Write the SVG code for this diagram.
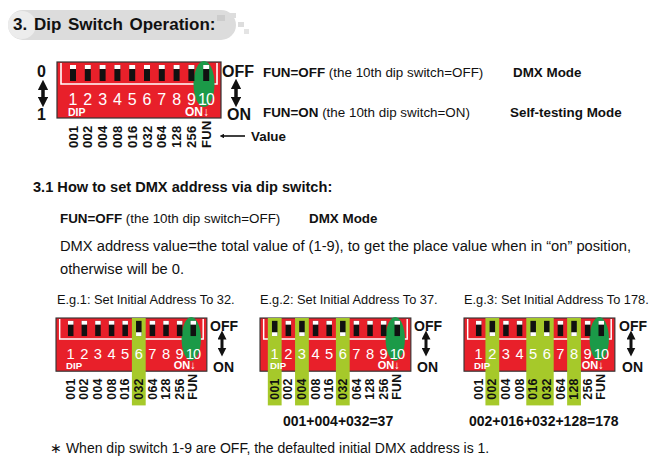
<svg xmlns="http://www.w3.org/2000/svg" xmlns:xlink="http://www.w3.org/1999/xlink" width="665" height="464" viewBox="0 0 665 464">
<style>
text{font-family:"Liberation Sans",Arial,sans-serif;fill:#111}
.b{font-weight:bold}
.num{fill:#fff;font-size:16px;text-anchor:middle}
.val{font-weight:bold;font-size:13px;letter-spacing:0.3px}
.bar{fill:#111}
.tip{fill:#fff}
.hl{fill:#a6c92a}
</style>
<defs>
<marker id="ah" viewBox="0 0 10 10" refX="5" refY="5" markerWidth="3" markerHeight="3" orient="auto-start-reverse"><path d="M0,0L10,5L0,10z" fill="#111"/></marker>
<g id="board">
<rect x="0" y="0" width="164" height="56" fill="#e8202a" stroke="#333" stroke-width="1.2"/>
<path d="M4,1V22H160V1" fill="none" stroke="#fff" stroke-width="1.6"/>
<ellipse cx="147" cy="22" rx="10.5" ry="23" fill="#1b9a48"/>
</g>
<g id="labels">
<text class="num" x="16" y="43">1</text><text class="num" x="30.8" y="43">2</text><text class="num" x="45.6" y="43">3</text><text class="num" x="60.4" y="43">4</text><text class="num" x="75.2" y="43">5</text><text class="num" x="90" y="43">6</text><text class="num" x="104.8" y="43">7</text><text class="num" x="119.6" y="43">8</text><text class="num" x="134.4" y="43">9</text><text class="num" x="149" y="43" style="letter-spacing:-1px">10</text>
<text x="11" y="54" class="b" style="fill:#fff;font-size:10.5px">DIP</text>
<text x="152" y="54" class="b" style="fill:#fff;font-size:12px;text-anchor:end">ON↓</text>
<g class="val">
<text transform="translate(20.5,86) rotate(-90)">001</text><text transform="translate(35.3,86) rotate(-90)">002</text><text transform="translate(50.1,86) rotate(-90)">004</text><text transform="translate(64.9,86) rotate(-90)">008</text><text transform="translate(79.7,86) rotate(-90)">016</text><text transform="translate(94.5,86) rotate(-90)">032</text><text transform="translate(109.3,86) rotate(-90)">064</text><text transform="translate(124.1,86) rotate(-90)">128</text><text transform="translate(138.9,86) rotate(-90)">256</text><text transform="translate(153.7,86) rotate(-90)">FUN</text>
</g>
</g>
<g id="off"><rect class="bar" x="-3" y="3" width="6" height="16"/><rect class="tip" x="-3" y="3" width="6" height="4"/></g>
<g id="on"><rect class="bar" x="-3" y="3" width="6" height="16"/><rect class="tip" x="-3" y="15" width="6" height="4"/></g>
</defs>

<g id="header">
<rect x="8" y="10" width="228" height="30" rx="15" fill="#dcdcdc"/>
<circle cx="22" cy="25" r="14" fill="#ececec"/>
<rect x="217" y="15" width="8" height="6" fill="#ccc"/><rect x="230" y="13" width="6" height="5" fill="#ddd"/><rect x="238" y="22" width="6" height="5" fill="#ddd"/><rect x="244" y="29" width="5" height="5" fill="#e4e4e4"/>
<text x="13" y="30" class="b" style="font-size:17px;word-spacing:2px">3.  Dip Switch Operation:</text>
</g>

<g id="main-switch" transform="translate(57,62)">
<use xlink:href="#board"/>
<use xlink:href="#off" x="16"/><use xlink:href="#off" x="30.8"/><use xlink:href="#off" x="45.6"/><use xlink:href="#off" x="60.4"/><use xlink:href="#off" x="75.2"/><use xlink:href="#off" x="90"/><use xlink:href="#off" x="104.8"/><use xlink:href="#off" x="119.6"/><use xlink:href="#off" x="134.4"/><use xlink:href="#off" x="149.2"/>
<use xlink:href="#labels"/>
</g>

<g id="connectors" stroke="#111" stroke-width="3.5" fill="none">
<line x1="43" y1="85" x2="43" y2="102" marker-start="url(#ah)" marker-end="url(#ah)"/>
<line x1="236" y1="84" x2="236" y2="102" marker-start="url(#ah)" marker-end="url(#ah)"/>
<line x1="222" y1="136" x2="245" y2="136" stroke-width="1.6" marker-start="url(#ah)" style="stroke-width:1.6"/>
<line x1="222" y1="335" x2="222" y2="352" stroke-width="3" marker-start="url(#ah)" marker-end="url(#ah)"/>
<line x1="426" y1="335" x2="426" y2="352" stroke-width="3" marker-start="url(#ah)" marker-end="url(#ah)"/>
<line x1="631" y1="335" x2="631" y2="352" stroke-width="3" marker-start="url(#ah)" marker-end="url(#ah)"/>
</g>

<g id="main-text">
<text x="37" y="77" class="b" style="font-size:16px">0</text>
<text x="37" y="120" class="b" style="font-size:16px">1</text>
<text x="222" y="77" class="b" style="font-size:16px">OFF</text>
<text x="227" y="120" class="b" style="font-size:16px">ON</text>
<text x="263" y="77" style="font-size:13.4px"><tspan class="b">FUN=OFF</tspan> (the 10th dip switch=OFF)</text>
<text x="513" y="77" class="b" style="font-size:13.4px">DMX Mode</text>
<text x="263" y="117" style="font-size:13.4px"><tspan class="b">FUN=ON</tspan> (the 10th dip switch=ON)</text>
<text x="510" y="117" class="b" style="font-size:13.4px">Self-testing Mode</text>
<text x="251" y="141" class="b" style="font-size:13.4px">Value</text>
<text x="33" y="192" class="b" style="font-size:14.6px">3.1 How to set DMX address via dip switch:</text>
<text x="60" y="223" style="font-size:13.4px"><tspan class="b">FUN=OFF</tspan> (the 10th dip switch=OFF)</text>
<text x="309" y="223" class="b" style="font-size:13.4px">DMX Mode</text>
<text x="60" y="251" style="font-size:14.7px">DMX address value=the total value of (1-9), to get the place value when in “on” position,</text>
<text x="60" y="274" style="font-size:14.7px">otherwise will be 0.</text>
<text x="57" y="304" style="font-size:12.8px">E.g.1: Set Initial Address To 32.</text>
<text x="260" y="304" style="font-size:12.8px">E.g.2: Set Initial Address To 37.</text>
<text x="464" y="304" style="font-size:12.8px">E.g.3: Set Initial Address To 178.</text>
<text x="283" y="426" class="b" style="font-size:14px">001+004+032=37</text>
<text x="469" y="426" class="b" style="font-size:14px">002+016+032+128=178</text>
<text x="50" y="453" style="font-size:14px">∗ When dip switch 1-9 are OFF,  the defaulted initial DMX address is 1.</text>
</g>

<g id="example1" transform="translate(56,318) scale(0.92,0.95)">
<use xlink:href="#board"/>
<rect class="hl" x="82.5" y="0" width="15" height="92"/>
<use xlink:href="#off" x="16"/><use xlink:href="#off" x="30.8"/><use xlink:href="#off" x="45.6"/><use xlink:href="#off" x="60.4"/><use xlink:href="#off" x="75.2"/><use xlink:href="#on" x="90"/><use xlink:href="#off" x="104.8"/><use xlink:href="#off" x="119.6"/><use xlink:href="#off" x="134.4"/><use xlink:href="#off" x="149.2"/>
<use xlink:href="#labels"/>
</g>
<g id="example1-labels"><text x="210" y="331" class="b" style="font-size:14px">OFF</text><text x="213" y="372" class="b" style="font-size:14px">ON</text></g>

<g id="example2" transform="translate(260,318) scale(0.92,0.95)">
<use xlink:href="#board"/>
<rect class="hl" x="8.5" y="0" width="15" height="92"/><rect class="hl" x="38.1" y="0" width="15" height="92"/><rect class="hl" x="82.5" y="0" width="15" height="92"/>
<use xlink:href="#on" x="16"/><use xlink:href="#off" x="30.8"/><use xlink:href="#on" x="45.6"/><use xlink:href="#off" x="60.4"/><use xlink:href="#off" x="75.2"/><use xlink:href="#on" x="90"/><use xlink:href="#off" x="104.8"/><use xlink:href="#off" x="119.6"/><use xlink:href="#off" x="134.4"/><use xlink:href="#off" x="149.2"/>
<use xlink:href="#labels"/>
</g>
<g id="example2-labels"><text x="414" y="331" class="b" style="font-size:14px">OFF</text><text x="417" y="372" class="b" style="font-size:14px">ON</text></g>

<g id="example3" transform="translate(464,318) scale(0.92,0.95)">
<use xlink:href="#board"/>
<rect class="hl" x="23.3" y="0" width="15" height="92"/><rect class="hl" x="67.7" y="0" width="15" height="92"/><rect class="hl" x="82.5" y="0" width="15" height="92"/><rect class="hl" x="112.1" y="0" width="15" height="92"/>
<use xlink:href="#off" x="16"/><use xlink:href="#on" x="30.8"/><use xlink:href="#off" x="45.6"/><use xlink:href="#off" x="60.4"/><use xlink:href="#on" x="75.2"/><use xlink:href="#on" x="90"/><use xlink:href="#off" x="104.8"/><use xlink:href="#on" x="119.6"/><use xlink:href="#off" x="134.4"/><use xlink:href="#off" x="149.2"/>
<use xlink:href="#labels"/>
</g>
<g id="example3-labels"><text x="619" y="331" class="b" style="font-size:14px">OFF</text><text x="622" y="372" class="b" style="font-size:14px">ON</text></g>
</svg>
